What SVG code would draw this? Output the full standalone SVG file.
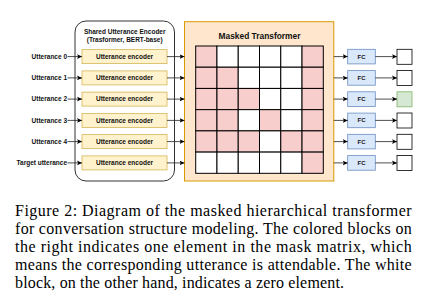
<svg xmlns="http://www.w3.org/2000/svg" width="442" height="304" viewBox="0 0 442 304">
<defs>
<marker id="ah" markerWidth="6" markerHeight="6" refX="5" refY="3" orient="auto" markerUnits="userSpaceOnUse">
<path d="M0,0.6 L5,3 L0,5.4 L1.2,3 Z" fill="#000"/>
</marker>
<style>
.lbl{font-family:"Liberation Sans",Arial,sans-serif;font-weight:bold;font-size:6.5px;fill:#111}
.enc{fill:#fff2cc;stroke:#d6b656;stroke-width:0.8}
.fc{fill:#dae8fc;stroke:#6c8ebf;stroke-width:0.8}
.out{fill:#fff;stroke:#000;stroke-width:0.8}
.cell{stroke:#000;stroke-width:1}
.p{fill:#f8cecc}
.w{fill:#fff}
.conn line{stroke:#222;stroke-width:0.8;marker-end:url(#ah)}
.cap{font-family:"Liberation Serif","Times New Roman",serif;font-size:16px;fill:#000}
</style>
</defs>
<rect width="442" height="304" fill="#fff"/>

<g id="shared-encoder">
<rect x="75" y="21" width="99.5" height="160" rx="11" ry="11" fill="#fff" stroke="#333" stroke-width="1"/>
<text class="lbl" x="124.7" y="34" text-anchor="middle">Shared Utterance Encoder</text>
<text class="lbl" x="124.7" y="42" text-anchor="middle">(Trasformer, BERT-base)</text>
</g>

<g id="inputs" class="lbl" text-anchor="end">
<text x="67" y="59">Utterance 0</text>
<text x="67" y="80.2">Utterance 1</text>
<text x="67" y="101.4">Utterance 2</text>
<text x="67" y="122.7">Utterance 3</text>
<text x="67" y="143.9">Utterance 4</text>
<text x="67" y="165.2">Target utterance</text>
</g>

<g id="encoders">
<g id="enc0"><rect class="enc" x="82" y="49.6" width="85" height="14"/><text class="lbl" x="124.5" y="58.9" text-anchor="middle">Utterance encoder</text></g>
<g id="enc1"><rect class="enc" x="82" y="70.9" width="85" height="14"/><text class="lbl" x="124.5" y="80.2" text-anchor="middle">Utterance encoder</text></g>
<g id="enc2"><rect class="enc" x="82" y="92.1" width="85" height="14"/><text class="lbl" x="124.5" y="101.4" text-anchor="middle">Utterance encoder</text></g>
<g id="enc3"><rect class="enc" x="82" y="113.4" width="85" height="14"/><text class="lbl" x="124.5" y="122.7" text-anchor="middle">Utterance encoder</text></g>
<g id="enc4"><rect class="enc" x="82" y="134.6" width="85" height="14"/><text class="lbl" x="124.5" y="143.9" text-anchor="middle">Utterance encoder</text></g>
<g id="enc5"><rect class="enc" x="82" y="155.9" width="85" height="14"/><text class="lbl" x="124.5" y="165.2" text-anchor="middle">Utterance encoder</text></g>
</g>

<g id="masked-transformer">
<rect x="184.5" y="21.7" width="149.3" height="159.3" fill="#ffe6cc" stroke="#d79b00" stroke-width="1"/>
<text x="259.5" y="38.5" text-anchor="middle" style="font-family:'Liberation Sans',Arial,sans-serif;font-weight:bold;font-size:8.4px;fill:#111">Masked Transformer</text>
<g class="cell">
<rect class="p" x="195.7" y="46" width="21.27" height="21.22"/>
<rect class="w" x="216.97" y="46" width="21.27" height="21.22"/>
<rect class="w" x="238.23" y="46" width="21.27" height="21.22"/>
<rect class="w" x="259.5" y="46" width="21.27" height="21.22"/>
<rect class="w" x="280.77" y="46" width="21.27" height="21.22"/>
<rect class="p" x="302.03" y="46" width="21.27" height="21.22"/>
<rect class="p" x="195.7" y="67.22" width="21.27" height="21.22"/>
<rect class="p" x="216.97" y="67.22" width="21.27" height="21.22"/>
<rect class="w" x="238.23" y="67.22" width="21.27" height="21.22"/>
<rect class="w" x="259.5" y="67.22" width="21.27" height="21.22"/>
<rect class="w" x="280.77" y="67.22" width="21.27" height="21.22"/>
<rect class="p" x="302.03" y="67.22" width="21.27" height="21.22"/>
<rect class="p" x="195.7" y="88.44" width="21.27" height="21.22"/>
<rect class="p" x="216.97" y="88.44" width="21.27" height="21.22"/>
<rect class="p" x="238.23" y="88.44" width="21.27" height="21.22"/>
<rect class="w" x="259.5" y="88.44" width="21.27" height="21.22"/>
<rect class="w" x="280.77" y="88.44" width="21.27" height="21.22"/>
<rect class="p" x="302.03" y="88.44" width="21.27" height="21.22"/>
<rect class="p" x="195.7" y="109.66" width="21.27" height="21.22"/>
<rect class="p" x="216.97" y="109.66" width="21.27" height="21.22"/>
<rect class="w" x="238.23" y="109.66" width="21.27" height="21.22"/>
<rect class="p" x="259.5" y="109.66" width="21.27" height="21.22"/>
<rect class="w" x="280.77" y="109.66" width="21.27" height="21.22"/>
<rect class="p" x="302.03" y="109.66" width="21.27" height="21.22"/>
<rect class="p" x="195.7" y="130.88" width="21.27" height="21.22"/>
<rect class="p" x="216.97" y="130.88" width="21.27" height="21.22"/>
<rect class="p" x="238.23" y="130.88" width="21.27" height="21.22"/>
<rect class="w" x="259.5" y="130.88" width="21.27" height="21.22"/>
<rect class="p" x="280.77" y="130.88" width="21.27" height="21.22"/>
<rect class="p" x="302.03" y="130.88" width="21.27" height="21.22"/>
<rect class="w" x="195.7" y="152.1" width="21.27" height="21.22"/>
<rect class="w" x="216.97" y="152.1" width="21.27" height="21.22"/>
<rect class="w" x="238.23" y="152.1" width="21.27" height="21.22"/>
<rect class="w" x="259.5" y="152.1" width="21.27" height="21.22"/>
<rect class="w" x="280.77" y="152.1" width="21.27" height="21.22"/>
<rect class="p" x="302.03" y="152.1" width="21.27" height="21.22"/>
</g>
</g>

<g id="fc-layers">
<g id="fc0"><rect class="fc" x="347.7" y="49.3" width="27.6" height="14.6"/><text class="lbl" x="361.5" y="58.6" text-anchor="middle" style="font-size:6px">FC</text></g>
<g id="fc1"><rect class="fc" x="347.7" y="70.6" width="27.6" height="14.6"/><text class="lbl" x="361.5" y="79.9" text-anchor="middle" style="font-size:6px">FC</text></g>
<g id="fc2"><rect class="fc" x="347.7" y="91.8" width="27.6" height="14.6"/><text class="lbl" x="361.5" y="101.1" text-anchor="middle" style="font-size:6px">FC</text></g>
<g id="fc3"><rect class="fc" x="347.7" y="113.1" width="27.6" height="14.6"/><text class="lbl" x="361.5" y="122.4" text-anchor="middle" style="font-size:6px">FC</text></g>
<g id="fc4"><rect class="fc" x="347.7" y="134.3" width="27.6" height="14.6"/><text class="lbl" x="361.5" y="143.6" text-anchor="middle" style="font-size:6px">FC</text></g>
<g id="fc5"><rect class="fc" x="347.7" y="155.6" width="27.6" height="14.6"/><text class="lbl" x="361.5" y="164.9" text-anchor="middle" style="font-size:6px">FC</text></g>
</g>

<g id="outputs">
<rect id="out0" class="out" x="397" y="49.3" width="15" height="15"/>
<rect id="out1" class="out" x="397" y="70.5" width="15" height="15"/>
<rect id="out2" x="397" y="91.8" width="15" height="15" fill="#d5e8d4" stroke="#82b366" stroke-width="0.8"/>
<rect id="out3" class="out" x="397" y="113" width="15" height="15"/>
<rect id="out4" class="out" x="397" y="134.3" width="15" height="15"/>
<rect id="out5" class="out" x="397" y="155.5" width="15" height="15"/>
</g>

<g id="connectors" class="conn">
<line x1="67.5" y1="56.6" x2="82" y2="56.6"/>
<line x1="67.5" y1="77.9" x2="82" y2="77.9"/>
<line x1="67.5" y1="99.1" x2="82" y2="99.1"/>
<line x1="67.5" y1="120.4" x2="82" y2="120.4"/>
<line x1="67.5" y1="141.6" x2="82" y2="141.6"/>
<line x1="67.5" y1="162.9" x2="82" y2="162.9"/>
<line x1="167" y1="56.6" x2="184.5" y2="56.6"/>
<line x1="167" y1="77.9" x2="184.5" y2="77.9"/>
<line x1="167" y1="99.1" x2="184.5" y2="99.1"/>
<line x1="167" y1="120.4" x2="184.5" y2="120.4"/>
<line x1="167" y1="141.6" x2="184.5" y2="141.6"/>
<line x1="167" y1="162.9" x2="184.5" y2="162.9"/>
<line x1="333.8" y1="56.6" x2="347.7" y2="56.6"/>
<line x1="333.8" y1="77.9" x2="347.7" y2="77.9"/>
<line x1="333.8" y1="99.1" x2="347.7" y2="99.1"/>
<line x1="333.8" y1="120.4" x2="347.7" y2="120.4"/>
<line x1="333.8" y1="141.6" x2="347.7" y2="141.6"/>
<line x1="333.8" y1="162.9" x2="347.7" y2="162.9"/>
<line x1="375.3" y1="56.6" x2="397" y2="56.6"/>
<line x1="375.3" y1="77.9" x2="397" y2="77.9"/>
<line x1="375.3" y1="99.1" x2="397" y2="99.1"/>
<line x1="375.3" y1="120.4" x2="397" y2="120.4"/>
<line x1="375.3" y1="141.6" x2="397" y2="141.6"/>
<line x1="375.3" y1="162.9" x2="397" y2="162.9"/>
</g>

<g id="caption" class="cap">
<text x="15" y="216" textLength="396.7" lengthAdjust="spacing">Figure 2: Diagram of the masked hierarchical transformer</text>
<text x="15" y="234" textLength="396.7" lengthAdjust="spacing">for conversation structure modeling. The colored blocks on</text>
<text x="15" y="252" textLength="396.7" lengthAdjust="spacing">the right indicates one element in the mask matrix, which</text>
<text x="15" y="270" textLength="396.7" lengthAdjust="spacing">means the corresponding utterance is attendable. The white</text>
<text x="15" y="288" textLength="329" lengthAdjust="spacing">block, on the other hand, indicates a zero element.</text>
</g>
</svg>
